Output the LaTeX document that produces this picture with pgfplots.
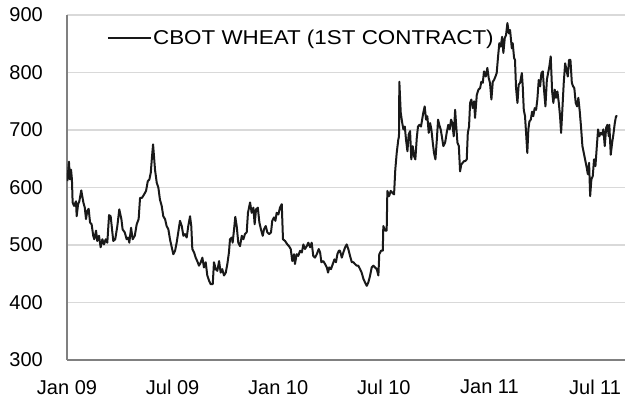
\documentclass[border=0pt]{standalone}
\usepackage{fontspec}
\setmainfont{Liberation Sans}
\usepackage{pgfplots}
\pgfplotsset{compat=1.18}
\usepackage{pgfplotstable}
\pgfplotstableread{
m v
0.02 611
0.11 645
0.17 614
0.23 631
0.28 614
0.32 574
0.40 568
0.51 576
0.55 550
0.63 571
0.70 576
0.81 595
0.93 574
1.01 565
1.08 545
1.15 559
1.23 563
1.31 539
1.40 536
1.49 516
1.55 510
1.65 525
1.72 507
1.82 516
1.91 496
2.01 510
2.10 501
2.20 510
2.29 504
2.39 552
2.48 550
2.56 527
2.63 507
2.74 510
2.86 533
2.97 562
3.09 545
3.16 527
3.28 522
3.39 510
3.48 513
3.54 504
3.64 530
3.73 510
3.85 516
3.96 536
4.07 545
4.15 582
4.26 582
4.38 588
4.49 594
4.59 611
4.68 614
4.76 626
4.83 654
4.89 675
5.00 631
5.10 608
5.19 600
5.28 579
5.38 568
5.47 550
5.57 545
5.66 533
5.76 527
5.85 510
5.95 496
6.04 484
6.14 490
6.23 504
6.32 522
6.42 542
6.52 533
6.61 516
6.70 519
6.80 513
6.89 533
6.99 550
7.06 533
7.12 493
7.22 487
7.31 478
7.40 472
7.50 464
7.60 470
7.69 478
7.78 461
7.88 470
7.97 447
8.07 438
8.16 432
8.28 432
8.35 470
8.45 458
8.54 455
8.64 472
8.73 452
8.82 458
8.92 447
9.02 452
9.11 467
9.20 487
9.26 510
9.36 513
9.41 504
9.49 527
9.56 549
9.64 533
9.73 504
9.83 498
9.93 516
10.02 510
10.11 519
10.21 522
10.28 556
10.40 574
10.49 556
10.59 565
10.66 536
10.74 562
10.84 565
10.93 539
11.02 527
11.12 516
11.19 527
11.29 533
11.38 522
11.49 519
11.59 522
11.66 542
11.76 548
11.84 542
11.91 556
12.01 553
12.10 565
12.20 571
12.27 510
12.39 507
12.52 501
12.61 498
12.71 493
12.80 472
12.90 484
12.95 467
13.05 484
13.14 481
13.24 490
13.34 487
13.43 501
13.52 493
13.62 498
13.71 504
13.81 496
13.90 504
13.99 481
14.09 478
14.19 484
14.30 493
14.38 487
14.45 470
14.56 472
14.66 467
14.76 461
14.83 452
14.90 461
15.00 458
15.10 467
15.19 475
15.28 470
15.36 484
15.44 490
15.51 490
15.61 478
15.70 487
15.80 496
15.89 501
15.98 493
16.08 481
16.18 470
16.27 470
16.36 467
16.46 464
16.55 464
16.65 458
16.74 452
16.84 441
16.93 435
17.03 429
17.12 435
17.22 447
17.31 461
17.40 464
17.50 461
17.60 458
17.69 447
17.74 484
17.84 490
17.94 490
17.97 533
18.07 525
18.16 525
18.20 594
18.30 585
18.39 594
18.48 591
18.58 588
18.65 631
18.73 660
18.82 683
18.86 689
18.88 784
18.96 730
19.03 715
19.11 701
19.19 706
19.26 683
19.34 663
19.41 692
19.49 698
19.56 649
19.64 672
19.72 654
19.79 649
19.87 686
19.94 706
20.02 709
20.11 706
20.24 730
20.32 741
20.40 718
20.47 724
20.55 695
20.63 712
20.70 701
20.78 678
20.85 660
20.93 649
21.01 683
21.08 718
21.15 709
21.23 701
21.31 686
21.38 672
21.48 678
21.57 695
21.66 709
21.74 701
21.82 718
21.89 712
21.97 689
22.05 735
22.10 712
22.18 678
22.26 672
22.33 628
22.40 640
22.48 643
22.56 646
22.63 646
22.71 649
22.77 695
22.84 706
22.90 747
22.97 753
23.05 738
23.13 750
23.18 721
23.28 761
23.37 770
23.47 773
23.54 784
23.62 782
23.69 802
23.79 793
23.88 808
23.96 790
24.03 782
24.11 753
24.19 784
24.26 787
24.34 793
24.41 799
24.49 828
24.56 851
24.64 845
24.72 862
24.79 834
24.87 860
24.94 865
25.02 886
25.10 868
25.17 874
25.27 842
25.32 851
25.40 825
25.45 822
25.51 773
25.59 747
25.66 779
25.74 782
25.84 799
25.89 776
25.95 735
26.02 724
26.08 695
26.15 660
26.21 701
26.27 715
26.35 718
26.42 732
26.49 724
26.57 738
26.65 735
26.72 753
26.80 787
26.88 776
26.95 799
27.03 802
27.10 770
27.18 741
27.26 787
27.33 799
27.40 810
27.48 828
27.56 767
27.63 747
27.71 770
27.78 756
27.86 767
27.94 747
28.01 724
28.07 695
28.14 735
28.22 782
28.30 816
28.37 805
28.45 793
28.52 822
28.60 822
28.68 782
28.75 776
28.82 773
28.90 747
28.98 741
29.05 756
29.13 732
29.20 706
29.28 672
29.36 660
29.43 649
29.51 637
29.59 623
29.66 643
29.72 585
29.79 614
29.87 620
29.94 649
30.02 637
30.10 672
30.17 701
30.24 689
30.32 695
30.40 692
30.47 701
30.55 672
30.63 704
30.70 709
30.78 689
30.81 709
30.89 657
30.97 678
31.04 692
31.12 712
31.19 724
31.27 724
}\wheat
\begin{document}
\begin{tikzpicture}
\begin{axis}[name=ax, scale only axis, width=558pt, height=345pt,
  xmin=0, xmax=31.7, ymin=300, ymax=900,
  axis x line*=bottom, axis y line*=left,
  axis line style={black!50, line width=2pt},
  xtick={0,6,12,18,24,30},
  xticklabels={Jan 09,Jul 09,Jan 10,Jul 10,Jan 11,Jul 11},
  ytick={300,400,...,900},
  ymajorgrids=true,
  grid style={black!15, line width=1.5pt},
  major tick length=0pt,
  /pgf/number format/assume math mode=true,
  ticklabel style={font=\fontsize{20}{24}\selectfont, inner sep=0pt},
  yticklabel style={xshift=-24pt},
  xticklabel style={yshift=-20pt},
  legend style={draw=none, fill=none, at={(0.0717,0.961)}, anchor=north west,
    font=\fontsize{20}{24}\selectfont, inner sep=0pt, nodes={inner sep=1.5pt}},
  legend image code/.code={\draw[#1, line width=1.4pt] (0pt,0pt) -- (43pt,0pt);},
]
\addplot[black!90, line width=2pt, line join=round] table[x=m,y=v]{\wheat};
\addlegendentry{\scalebox{1.12}[1]{CBOT WHEAT (1ST CONTRACT)}}
\end{axis}
\pgfresetboundingbox
\path ([xshift=-67pt,yshift=-52pt]ax.south west) rectangle ([xshift=15pt,yshift=15pt]ax.north east);
\end{tikzpicture}
\end{document}
